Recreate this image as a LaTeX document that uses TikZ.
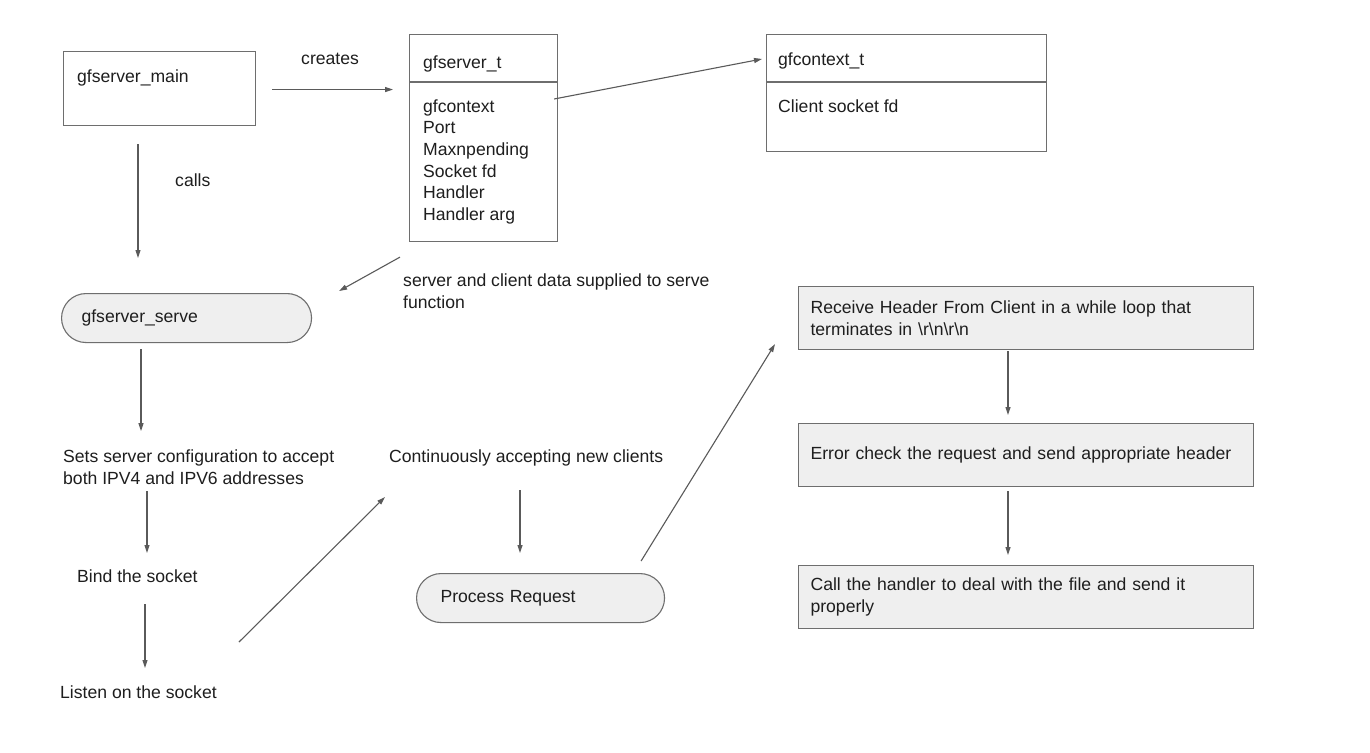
\documentclass[tikz,border=0pt]{standalone}
\usepackage{fontspec}
\setmainfont{Liberation Sans}
\usetikzlibrary{arrows.meta,calc}
\definecolor{boxgray}{HTML}{6E6E6E}
\definecolor{arrgray}{HTML}{5A5A5A}
\definecolor{pillfill}{HTML}{EFEFEF}
\definecolor{txtcol}{HTML}{1E1E1E}
\begin{document}
\begin{tikzpicture}[x=1pt,y=-1pt,
  font=\fontsize{17.6}{21.7}\selectfont,
  rbox/.style={draw=boxgray, line width=1.1pt, anchor=north west, inner sep=0pt},
  gbox/.style={rbox, fill=pillfill, text=txtcol, inner xsep=12pt, text width=431pt,
      minimum width=455pt, minimum height=63pt, align=left},
  pill/.style={rbox, fill=pillfill, text=txtcol, align=left, minimum height=49pt},
  txt/.style={inner sep=0pt, anchor=base west, align=left, text=txtcol},
  conn/.style={draw=arrgray, line width=1.1pt, -{Triangle[length=8pt,width=5pt]}},
  boxline/.style={draw=boxgray, line width=1.1pt}
]
\useasboundingbox[fill=white] (0,0) rectangle (1370,752);

% class-like boxes
\node[rbox, minimum width=192pt, minimum height=74pt] (main) at (63,51) {};
\node[txt] (maint) at (77,82) {gfserver\_main};

\node[rbox, minimum width=148pt, minimum height=207pt] (gst) at (409,34) {};
\draw[boxline] ($(gst.north west)+(0,48)$) -- ($(gst.north east)+(0,48)$);
\node[txt] (gsth) at (423,68) {gfserver\_t};
% base anchor of a multi-line node = baseline of its last line
\node[txt] (gstb) at (423,220.5) {gfcontext\\Port\\Maxnpending\\Socket fd\\Handler\\Handler arg};

\node[rbox, minimum width=280pt, minimum height=117pt] (gct) at (766,34) {};
\draw[boxline] ($(gct.north west)+(0,48)$) -- ($(gct.north east)+(0,48)$);
\node[txt] (gcth) at (778,66) {gfcontext\_t};
\node[txt] (gctb) at (778,112) {Client socket fd};

% labels
\node[txt] (creates) at (301,65) {creates};
\node[txt] (calls) at (175,186) {calls};
\node[txt] (sdata) at (403,308) {server and client data supplied to serve\\function};

% pills
\node[pill, minimum width=250pt, inner xsep=20pt, text width=210pt, rounded corners=24.5pt] (serve) at (61,293) {gfserver\_serve};
\node[pill, minimum width=248pt, inner xsep=24pt, text width=200pt, rounded corners=24.5pt] (proc) at (416,573) {Process Request};

% left column texts
\node[txt] (sets) at (63,484) {Sets server configuration to accept\\both IPV4 and IPV6 addresses};
\node[txt] (bind) at (77,582) {Bind the socket};
\node[txt] (listen) at (60,698) {Listen on the socket};
\node[txt] (cont) at (389,462) {Continuously accepting new clients};

% right column boxes
\node[gbox] (recv) at (798,286) {Receive Header From Client in a while loop that\\terminates in \textbackslash r\textbackslash n\textbackslash r\textbackslash n};
\node[gbox] (err) at (798,423) {Error check the request and send appropriate header};
\node[gbox] (call) at (798,565) {Call the handler to deal with the file and send it\\properly};

% connectors
\draw[conn] ($(main.east)+(16,1)$) -- ($(gst.west |- main.east)+(-16,1)$);
\draw[conn] ($(gst.north east)+(-4,65)$) -- ($(gct.north west)+(-4,25)$);
\draw[conn] ($(main.south west)+(75,18)$) -- ($(serve.north west)+(77,-35)$);
\draw[conn] ($(gst.south west)+(-9,15)$) -- ($(serve.north east)+(27,-2)$);
\draw[conn] ($(serve.south west)+(80,6)$) -- ($(serve.south west)+(80,88)$);
\draw[conn] ($(bind.base west)+(70,-91)$) -- ($(bind.base west)+(70,-29)$);
\draw[conn] ($(listen.base west)+(85,-94)$) -- ($(listen.base west)+(85,-30)$);
\draw[conn] ($(listen.base west)+(179,-56)$) -- ($(cont.base west)+(-4,35)$);
\draw[conn] ($(proc.north west)+(104,-83)$) -- ($(proc.north west)+(104,-20)$);
\draw[conn] ($(proc.north east)+(-24,-12)$) -- ($(recv.south west)+(-23,-6)$);
\draw[conn] ($(recv.south west)+(210,1)$) -- ($(err.north west)+(210,-8)$);
\draw[conn] ($(err.south west)+(210,4)$) -- ($(call.north west)+(210,-10)$);
\end{tikzpicture}
\end{document}
